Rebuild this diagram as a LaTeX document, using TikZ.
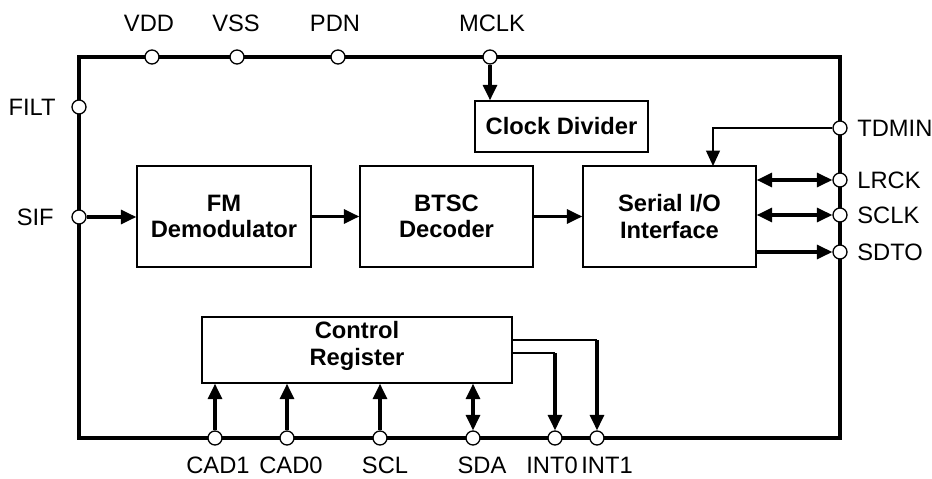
\documentclass[tikz,border=0pt]{standalone}
\usepackage{fontspec}
\setmainfont{Liberation Sans}
\usetikzlibrary{arrows.meta}

\tikzset{
  lbl/.style={font=\fontsize{13.5}{15}\selectfont, inner sep=0pt},
  blk/.style={draw, line width=0.8pt, inner sep=0pt, align=center,
    font=\fontsize{13.5}{15}\selectfont\bfseries},
  pin/.style={circle, draw, fill=white, line width=0.75pt, minimum size=0.28cm, inner sep=0pt},
  tip/.tip={Triangle[length=0.31cm,width=0.28cm]},
  sig/.style={line width=1.8pt, -tip},
  bus/.style={line width=1.8pt, tip-tip},
  wire/.style={line width=0.8pt}
}

\begin{document}
\begin{tikzpicture}[x=0.02cm, y=-0.02cm]
  \useasboundingbox (0,0) rectangle (932,479);

  \coordinate (TL) at (79,57);
  \coordinate (BR) at (840,438);
  \draw[line width=2.5pt] (TL) rectangle (BR); % chip outline

  % blocks
  \node[blk, minimum width=3.48cm, minimum height=2.02cm] (fm)   at (224,216.5)   {FM\\Demodulator};
  \node[blk, minimum width=3.46cm, minimum height=2.02cm] (btsc) at (446.5,216.5) {BTSC\\Decoder};
  \node[blk, minimum width=3.46cm, minimum height=2.02cm] (sio)  at (669.5,216.5) {Serial I/O\\Interface};
  \node[blk, minimum width=3.46cm, minimum height=1.02cm] (clk)  at (561.5,126.5) {Clock Divider};
  \node[blk, minimum width=6.20cm, minimum height=1.32cm] (cr)   at (357,350)     {};
  \node[blk, draw=none] (crt) at (357,346) {Control\\Register}; % text sits a bit high

  % pins on top edge
  \node[pin] (vdd)  at (152,57) {};
  \node[pin] (vss)  at (237,57) {};
  \node[pin] (pdn)  at (338,57) {};
  \node[pin] (mclk) at (490,57) {};
  % pins on left edge
  \node[pin] (filt) at (79,107) {};
  \node[pin] (sif)  at (79,217) {};
  % pins on right edge
  \node[pin] (tdmin) at (840,128) {};
  \node[pin] (lrck)  at (840,180) {};
  \node[pin] (sclk)  at (840,215) {};
  \node[pin] (sdto)  at (840,252) {};
  % pins on bottom edge
  \node[pin] (cad1) at (215,438) {};
  \node[pin] (cad0) at (287,438) {};
  \node[pin] (scl)  at (380,438) {};
  \node[pin] (sda)  at (473,438) {};
  \node[pin] (int0) at (555,438) {};
  \node[pin] (int1) at (597,438) {};

  % pin names
  \node[lbl] (vddl)  at (149,23) {VDD};
  \node[lbl] (vssl)  at (236,23) {VSS};
  \node[lbl] (pdnl)  at (335,23) {PDN};
  \node[lbl] (mclkl) at (492,23) {MCLK};
  \node[lbl, anchor=east] (filtl) at (56,107) {FILT};
  \node[lbl, anchor=east] (sifl)  at (54,217) {SIF};
  \node[lbl, anchor=west] (tdminl) at (857,128) {TDMIN};
  \node[lbl, anchor=west] (lrckl)  at (857,180) {LRCK};
  \node[lbl, anchor=west] (sclkl)  at (857,215) {SCLK};
  \node[lbl, anchor=west] (sdtol)  at (857,252) {SDTO};
  \node[lbl] (cad1l) at (218,465) {CAD1};
  \node[lbl] (cad0l) at (291,465) {CAD0};
  \node[lbl] (scll)  at (385,465) {SCL};
  \node[lbl] (sdal)  at (482,465) {SDA};
  \node[lbl] (int0l) at (552,465) {INT0};
  \node[lbl] (int1l) at (607,465) {INT1};

  % signal path
  \draw[sig] (sif) -- (sif -| fm.west);
  \draw[sig] (fm) -- (btsc);
  \draw[sig] (btsc) -- (sio);
  \draw[sig] (mclk) -- (mclk |- clk.north);

  \coordinate (tdin) at (713,166); % TDMIN entry on serial block
  \draw[wire, -tip] (tdmin) -| (tdin);
  \draw[bus] (sio.east |- lrck) -- (lrck);
  \draw[bus] (sio.east |- sclk) -- (sclk);
  \draw[sig] (sio.east |- sdto) -- (sdto);

  % control port
  \draw[sig] (cad1) -- (cad1 |- cr.south);
  \draw[sig] (cad0) -- (cad0 |- cr.south);
  \draw[sig] (scl) -- (scl |- cr.south);
  \draw[bus] (sda) -- (sda |- cr.south);

  \coordinate (i0) at (555,353);
  \coordinate (i1) at (597,340);
  \draw[wire] (cr.east |- i0) -- (i0);
  \draw[wire] (cr.east |- i1) -- (i1);
  \draw[sig] (i0) -- (int0);
  \draw[sig] (i1) -- (int1);
\end{tikzpicture}
\end{document}
